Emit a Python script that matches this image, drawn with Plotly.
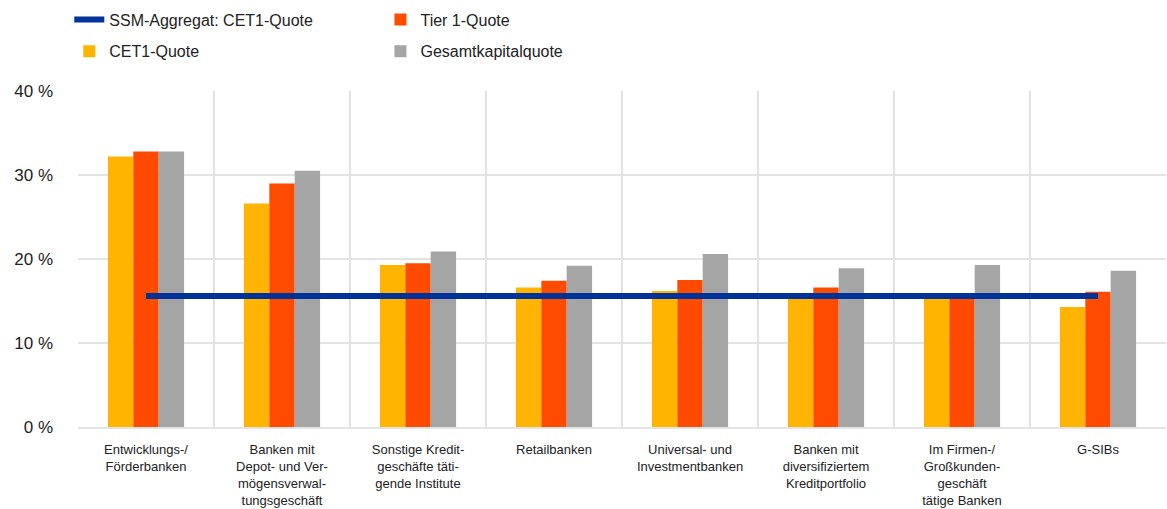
import plotly.graph_objects as go

categories = [
    "Entwicklungs-/<br>Förderbanken",
    "Banken mit<br>Depot- und Ver-<br>mögensverwal-<br>tungsgeschäft",
    "Sonstige Kredit-<br>geschäfte täti-<br>gende Institute",
    "Retailbanken",
    "Universal- und<br>Investmentbanken",
    "Banken mit<br>diversifiziertem<br>Kreditportfolio",
    "Im Firmen-/<br>Großkunden-<br>geschäft<br>tätige Banken",
    "G-SIBs",
]
cet1 = [32.2, 26.6, 19.3, 16.6, 16.2, 15.3, 15.3, 14.3]
tier1 = [32.8, 29.0, 19.5, 17.4, 17.5, 16.6, 15.5, 16.1]
gesamt = [32.8, 30.5, 20.9, 19.2, 20.6, 18.9, 19.3, 18.6]
ssm_cet1 = [15.6] * len(categories)

font_family = "Liberation Sans, Arial, sans-serif"

fig = go.Figure()
fig.add_trace(go.Bar(x=categories, y=cet1, name="CET1-Quote", marker_color="#FFB400",
                     marker_line_width=0, legend="legend", legendgroup="c", legendrank=2))
fig.add_trace(go.Bar(x=categories, y=tier1, name="Tier 1-Quote", marker_color="#FF4B00",
                     marker_line_width=0, legend="legend2", legendgroup="t", legendrank=1))
fig.add_trace(go.Bar(x=categories, y=gesamt, name="Gesamtkapitalquote", marker_color="#A5A5A5",
                     marker_line_width=0, legend="legend2", legendgroup="g", legendrank=2))
fig.add_trace(go.Scatter(x=categories, y=ssm_cet1, name="SSM-Aggregat: CET1-Quote", mode="lines",
                         line=dict(color="#003299", width=6), legend="legend", legendgroup="s",
                         legendrank=1))

fig.update_layout(
    width=1167, height=509,
    margin=dict(l=78, r=1, t=91, b=80),
    paper_bgcolor="white", plot_bgcolor="white",
    barmode="group", bargap=0.44, bargroupgap=0,
    font=dict(family=font_family, color="#333333"),
    legend=dict(x=-0.008, y=0.995, xref="paper", yref="container", xanchor="left", yanchor="top",
                orientation="v", traceorder="grouped", tracegroupgap=8,
                font=dict(size=16, color="#222222"), bgcolor="rgba(0,0,0,0)",
                itemwidth=30),
    legend2=dict(x=0.278, y=0.995, xref="paper", yref="container", xanchor="left", yanchor="top",
                 orientation="v", traceorder="grouped", tracegroupgap=8,
                 font=dict(size=16, color="#222222"), bgcolor="rgba(0,0,0,0)",
                 itemwidth=30),
    showlegend=True,
)
fig.update_xaxes(
    type="category", tickson="boundaries", showgrid=True, gridcolor="#E3E3E3", gridwidth=1.5,
    ticks="", showline=True, linecolor="#E3E3E3", linewidth=1.5,
    tickfont=dict(size=13, color="#222222"), tickangle=0, ticklabelstandoff=10,
)
fig.update_yaxes(
    range=[0, 40], dtick=10, ticksuffix=" %", showgrid=True, gridcolor="#E3E3E3", gridwidth=1.5,
    zeroline=False, ticks="", tickfont=dict(size=17, color="#222222"), ticklabelstandoff=24,
)

fig.write_html("out.html")
